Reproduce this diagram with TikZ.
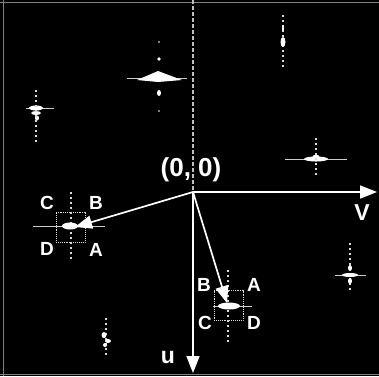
\documentclass[tikz,border=0pt]{standalone}
\usepackage{fontspec}
\setmainfont{Liberation Sans}
\usetikzlibrary{arrows.meta}
\begin{document}
\begin{tikzpicture}[x=1pt,y=-1pt,
  vec/.style={white,line width=1.7pt,-{Triangle[length=17pt,width=13pt]}},
  boxstyle/.style={draw=white!85!black,densely dotted,line width=0.9pt,minimum width=29pt,minimum height=30pt,inner sep=0pt},
  lbl/.style={text=white,font=\bfseries\fontsize{19}{19}\selectfont,inner sep=0pt},
  axlbl/.style={text=white,font=\bfseries\fontsize{23}{23}\selectfont,inner sep=0pt},
  streak/.style={white!80!black,line width=0.7pt},
  dotline/.style={white!85!black,line width=1.3pt,dash pattern=on 1.5pt off 3.5pt},
  blob/.style={fill=white}]
\fill[black] (0,0) rectangle (379,376);
\useasboundingbox (0,0) rectangle (379,376);
% faint frame
\draw[gray,line width=0.6pt] (0,2) -- (379,2);
\draw[gray,line width=0.6pt] (3,0) -- (3,376);
\draw[gray,line width=0.6pt] (0,374) -- (379,374);
% faint vertical centre line
\draw[white!75!black,line width=1.5pt,dash pattern=on 4pt off 2pt] (193,0) -- (193,190);
% spot 1
\draw[streak] (127,78) -- (187,78);
\fill[blob] (137,80) -- (158,71) -- (182,80) -- (158,82) -- cycle;
\fill[blob] (159,59) circle (1.8);
\fill[blob] (159,93) ellipse (2 and 3);
\fill[blob] (159,42) circle (0.8);
\fill[blob] (159,111) circle (0.8);
% spot 2
\draw[dotline] (283,15) -- (283,67);
\fill[blob] (283,42) ellipse (2.5 and 5);
\fill[blob] (283,28) ellipse (1 and 3);
% spot 3
\draw[streak] (26,108) -- (54,108);
\fill[blob] (36,108) ellipse (7 and 2.5);
\fill[blob] (36,113) ellipse (5 and 2);
\fill[blob] (37,118) ellipse (2 and 2.5);
\draw[dotline] (36,90) -- (36,142);
% spot 4
\draw[streak] (285,159) -- (347,159);
\fill[blob] (316,159) ellipse (12 and 2.5);
\fill[blob] (316,158) ellipse (4 and 3.5);
\draw[dotline] (316,138) -- (316,178);
% spot 5
\draw[dotline] (350,243) -- (350,293);
\draw[streak] (335,275) -- (366,275);
\fill[blob] (350,275) ellipse (8 and 2);
\fill[blob] (350,268) ellipse (2 and 3);
\fill[blob] (350,281) ellipse (2 and 3);
% spot 6
\draw[dotline] (106,318) -- (106,357);
\fill[blob] (104,335) ellipse (2.5 and 3);
\fill[blob] (108,341) ellipse (3 and 2);
\fill[blob] (105,345) ellipse (2 and 2);
% spot in left box
\draw[streak] (33,226) -- (105,226);
\draw[dotline] (71,192) -- (71,262);
\fill[blob] (70,226) ellipse (8 and 3.5);
% spot in right box
\draw[streak] (213,306) -- (252,306);
\draw[dotline] (228,270) -- (228,342);
\fill[blob] (229,306) ellipse (11 and 3.5);
% axes and vectors
\coordinate (O) at (193,192);
\coordinate (vend) at (377,192);
\coordinate (uend) at (193,373);
\draw[vec] (O) -- (vend);
\draw[vec] (O) -- (uend);
\node[boxstyle] (boxL) at (70.5,227) {};
\node[boxstyle] (boxR) at (228.5,305.5) {};
\coordinate (tipL) at (75,227);
\coordinate (tipR) at (227,303);
\draw[vec] (O) -- (tipL);
\draw[vec] (O) -- (tipR);
% labels
\node[axlbl] (orig) at (191,170) {\fontsize{26}{26}\selectfont(0, 0)};
\node[axlbl] (vlbl) at (362,213) {V};
\node[axlbl] (ulbl) at (168,358) {u};
\node[lbl] (cL) at (47,203) {C};
\node[lbl] (bL) at (96,203) {B};
\node[lbl] (dL) at (47,249) {D};
\node[lbl] (aL) at (96,250) {A};
\node[lbl] (bR) at (204,285) {B};
\node[lbl] (aR) at (254,285) {A};
\node[lbl] (cR) at (205,323) {C};
\node[lbl] (dR) at (254,323) {D};
\end{tikzpicture}
\end{document}
